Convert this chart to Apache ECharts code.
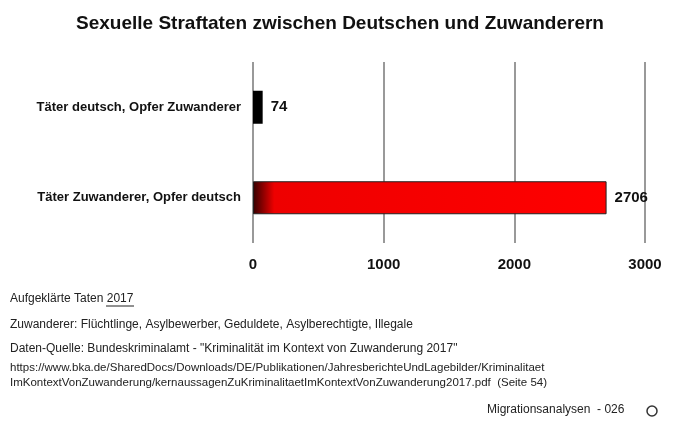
<!DOCTYPE html>
<html><head><meta charset="utf-8">
<script src="https://cdn.jsdelivr.net/npm/echarts@6/dist/echarts.min.js"></script>
<style>html,body{margin:0;padding:0;background:#fff}#c{width:680px;height:431px}</style>
</head><body><div id="c"></div>
<script>
const categories = ['Täter Zuwanderer, Opfer deutsch', 'Täter deutsch, Opfer Zuwanderer'];
const values = [2706, 74];
const ticks = [0, 1000, 2000, 3000];
const chart = echarts.init(document.getElementById('c'));
const txt = (t, y, extra) => Object.assign({type:'text', left:10, top:y, style:{text:t, fill:'#222', font:'12px "Liberation Sans", Arial, sans-serif'}}, extra||{});
chart.setOption({
  animation:false,
  title:{text:'Sexuelle Straftaten zwischen Deutschen und Zuwanderern', left:'center', top:9,
    textStyle:{fontFamily:'"Liberation Sans", Arial', fontSize:19, fontWeight:'bold', color:'#111'}},
  grid:{left:253, right:35, top:62, bottom:188},
  xAxis:{type:'value', min:0, max:3000, interval:1000,
    axisLine:{show:false}, axisTick:{show:false},
    splitLine:{lineStyle:{color:'#777', width:1.5}},
    axisLabel:{margin:14, color:'#111', fontSize:15, fontWeight:'bold', fontFamily:'"Liberation Sans", Arial',
      formatter:v => String(v)}},
  yAxis:{type:'category', data:categories, axisLine:{show:false}, axisTick:{show:false},
    axisLabel:{margin:12, color:'#111', fontSize:13, fontWeight:'bold', fontFamily:'"Liberation Sans", Arial'}},
  series:[{type:'bar', barWidth:33, data:[
      {value:values[0], itemStyle:{color:new echarts.graphic.LinearGradient(0,0,1,0,[{offset:0,color:'#300'},{offset:0.06,color:'#e00'},{offset:1,color:'#f00'}]), borderColor:'#222', borderWidth:1}},
      {value:values[1], itemStyle:{color:'#000'}}],
    label:{show:true, position:'right', distance:8, color:'#111', fontSize:15, fontWeight:'bold', fontFamily:'"Liberation Sans", Arial'}}],
  graphic:[
    txt('Aufgeklärte Taten 2017', 293),
    {type:'line', shape:{x1:106,y1:306,x2:134,y2:306}, style:{stroke:'#222', lineWidth:1}},
    txt('Zuwanderer: Flüchtlinge, Asylbewerber, Geduldete, Asylberechtigte, Illegale', 319),
    txt('Daten-Quelle: Bundeskriminalamt - "Kriminalität im Kontext von Zuwanderung 2017"', 343),
    txt('', 362, {style:{text:'https://www.bka.de/SharedDocs/Downloads/DE/Publikationen/JahresberichteUndLagebilder/Kriminalitaet', fill:'#222', font:'11.5px "Liberation Sans", Arial'}}),
    txt('', 377, {style:{text:'ImKontextVonZuwanderung/kernaussagenZuKriminalitaetImKontextVonZuwanderung2017.pdf  (Seite 54)', fill:'#222', font:'11.5px "Liberation Sans", Arial'}}),
    {type:'text', left:487, top:404, style:{text:'Migrationsanalysen  - 026', fill:'#222', font:'12px "Liberation Sans", Arial'}},
    {type:'circle', shape:{cx:652, cy:411, r:5}, style:{fill:'none', stroke:'#333', lineWidth:1.5}}
  ]
});
</script></body></html>
